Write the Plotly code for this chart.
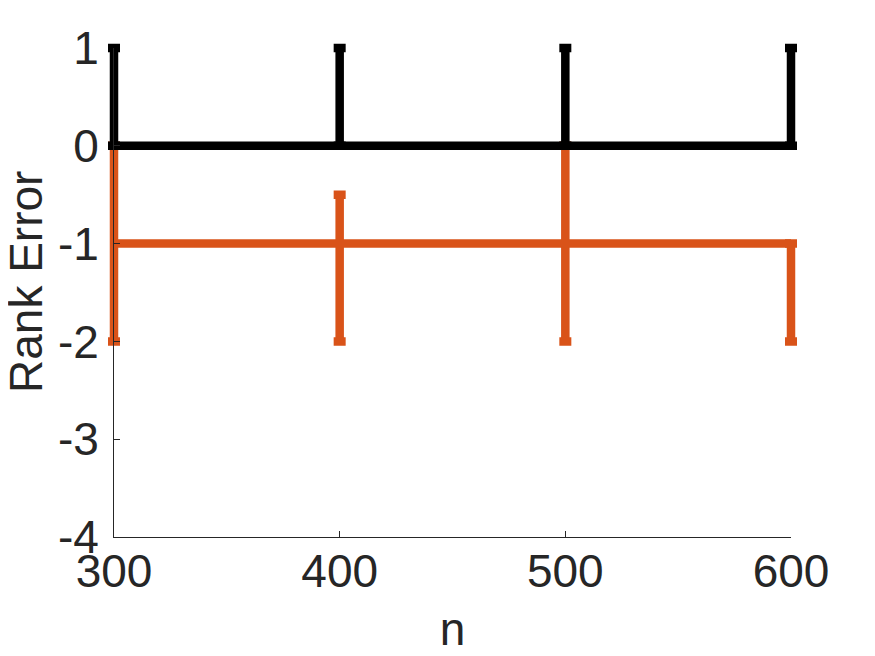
import plotly.graph_objects as go

n_vals = [300, 400, 500, 600]
black_y = [0, 0, 0, 0]
black_plus = [1, 1, 1, 1]
black_minus = [0, 0, 0, 0]
orange_y = [-1, -1, -1, -1]
orange_plus = [1, 0.5, 1, 0]
orange_minus = [1, 1, 1, 1]
y_ticks = [-4, -3, -2, -1, 0, 1]
y_tick_labels = ["-4", "-3", "-2", "-1", "0", "1"]
x_ticks = [300, 400, 500, 600]
x_tick_labels = ["300", "400", "500", "600"]
x_range = [300, 600]
y_range = [-4, 1]
x_title = "n"
y_title = "Rank Error"

# layout geometry (pixels)
W, H = 875, 656
OFF = 8                     # page body offset
left, right, top, bottom = 114, 791, 48, 537   # data area on screen
PAD = 12
ml = left - OFF - PAD
mr = W - (right - OFF) - PAD
mt = top - OFF - PAD
mb = H - (bottom - OFF) - PAD
pw = W - ml - mr
ph = H - mt - mb
dw = right - left
dh = bottom - top
xpad = PAD * (x_range[1] - x_range[0]) / dw
ypad = PAD * (y_range[1] - y_range[0]) / dh

fig = go.Figure()
fig.add_trace(go.Scatter(
    x=n_vals, y=orange_y, mode="lines",
    line=dict(color="#D95319", width=8.5),
    error_y=dict(type="data", symmetric=False, array=orange_plus, arrayminus=orange_minus,
                 color="#D95319", thickness=8.5, width=6),
    showlegend=False, xaxis="x", yaxis="y"))
fig.add_trace(go.Scatter(
    x=n_vals, y=black_y, mode="lines",
    line=dict(color="#000000", width=8.5),
    error_y=dict(type="data", symmetric=False, array=black_plus, arrayminus=black_minus,
                 color="#000000", thickness=8.5, width=6),
    showlegend=False, xaxis="x", yaxis="y"))
# invisible trace to hold the visible axes
fig.add_trace(go.Scatter(x=[x_range[0]], y=[y_range[0]], mode="markers",
                         marker=dict(opacity=0), hoverinfo="skip", showlegend=False,
                         xaxis="x2", yaxis="y2"))

font = dict(family="Liberation Sans", size=46, color="#262626")
hidden = dict(visible=False, showgrid=False, zeroline=False, automargin=False)
fig.update_layout(
    width=W, height=H,
    margin=dict(l=ml, r=mr, t=mt, b=mb),
    paper_bgcolor="white", plot_bgcolor="rgba(0,0,0,0)",
    font=font,
    xaxis=dict(range=[x_range[0] - xpad, x_range[1] + xpad], domain=[0, 1], anchor="y", **hidden),
    yaxis=dict(range=[y_range[0] - ypad, y_range[1] + ypad], domain=[0, 1], anchor="x", **hidden),
    xaxis2=dict(range=x_range, domain=[PAD / pw, 1 - PAD / pw], anchor="y2",
                tickvals=x_ticks, ticktext=x_tick_labels,
                ticks="inside", ticklen=6, tickwidth=1, ticklabelstandoff=-6,
                tickcolor="#262626", showline=True, linecolor="#262626", linewidth=1,
                showgrid=False, zeroline=False, automargin=False,
                title=dict(text=x_title, font=font, standoff=16),
                tickfont=font),
    yaxis2=dict(range=y_range, domain=[PAD / ph, 1 - PAD / ph], anchor="x2",
                tickvals=y_ticks, ticktext=y_tick_labels,
                ticks="inside", ticklen=6, tickwidth=1, ticklabelstandoff=5,
                tickcolor="#262626", showline=True, linecolor="#262626", linewidth=1,
                showgrid=False, zeroline=False, automargin=False,
                tickfont=font),
    annotations=[dict(text=y_title, textangle=-90, font=font, showarrow=False,
                      xref="paper", yref="paper",
                      x=(26 - OFF - ml) / pw, y=1 - (282 - OFF - mt) / ph,
                      xanchor="center", yanchor="middle")],
)
fig.write_html("out.html")
